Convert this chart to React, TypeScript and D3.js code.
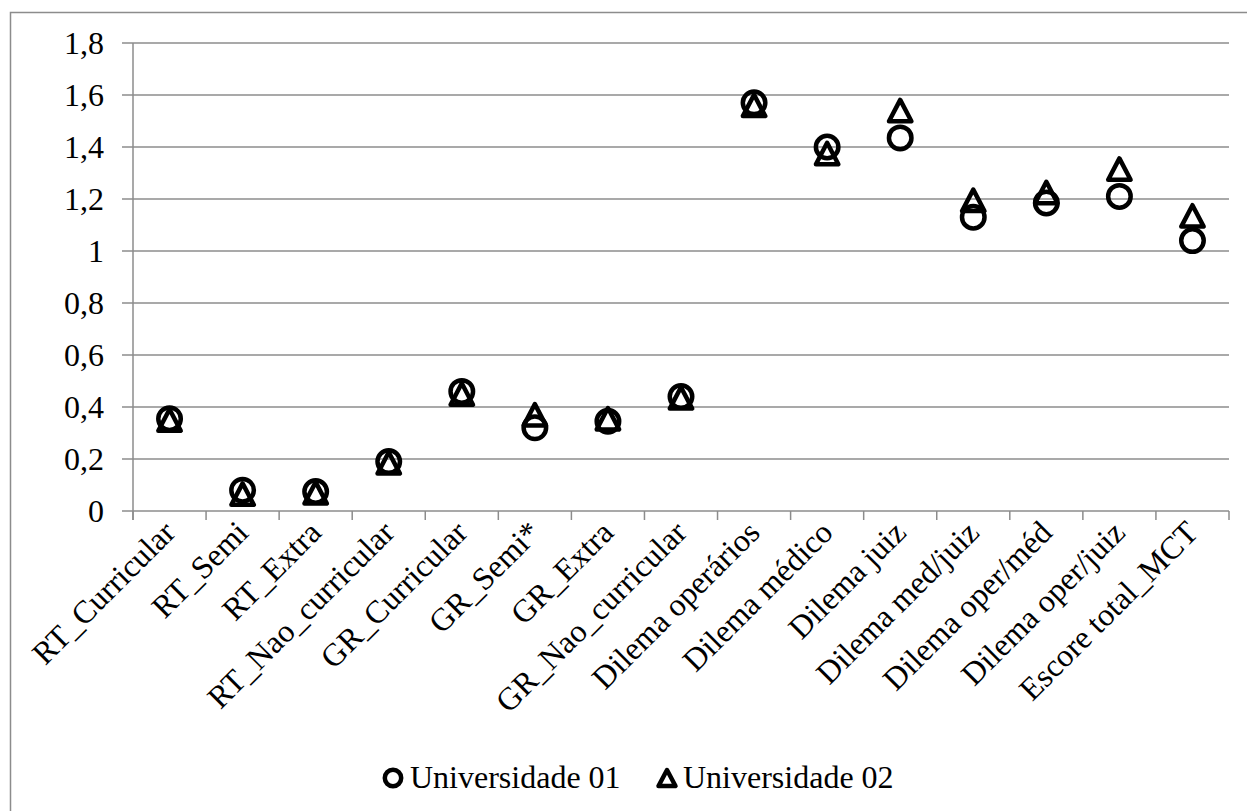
import React from "react";
import * as d3 from "d3";

const categories = [
  "RT_Curricular",
  "RT_Semi",
  "RT_Extra",
  "RT_Nao_curricular",
  "GR_Curricular",
  "GR_Semi*",
  "GR_Extra",
  "GR_Nao_curricular",
  "Dilema operários",
  "Dilema médico",
  "Dilema juiz",
  "Dilema med/juiz",
  "Dilema oper/méd",
  "Dilema oper/juiz",
  "Escore total_MCT",
];

const universidade01 = [0.355, 0.08, 0.075, 0.19, 0.46, 0.32, 0.345, 0.44, 1.57, 1.4, 1.435, 1.13, 1.185, 1.21, 1.04];
const universidade02 = [0.35, 0.065, 0.07, 0.185, 0.45, 0.37, 0.355, 0.435, 1.56, 1.375, 1.54, 1.195, 1.225, 1.315, 1.135];

const yTicks = [0, 0.2, 0.4, 0.6, 0.8, 1, 1.2, 1.4, 1.6, 1.8];
const yTickLabels = ["0", "0,2", "0,4", "0,6", "0,8", "1", "1,2", "1,4", "1,6", "1,8"];

const seriesNames = ["Universidade 01", "Universidade 02"];

const W = 1247;
const H = 811;
const left = 133;
const right = 1229;
const top = 43;
const bottom = 511;
const FONT = "'Liberation Serif', 'Times New Roman', Times, serif";
const GRID = "#8c8c8c";

function trianglePath(half: number, h: number) {
  return `M0,${-h}L${half},${h}L${-half},${h}Z`;
}

export default function App() {
  const x = d3.scaleBand<string>().domain(categories).range([left, right]).paddingInner(0).paddingOuter(0);
  const y = d3.scaleLinear().domain([0, 1.8]).range([bottom, top]);
  const bw = x.bandwidth();
  const boundaries = d3.range(categories.length + 1).map((i) => left + i * bw);

  return (
    <svg
      width={W}
      height={H}
      style={{ position: "absolute", left: 0, top: 0, background: "#fff" }}
      fontFamily={FONT}
    >
      <rect x={0} y={0} width={W} height={H} fill="#fff" />
      {/* chart frame */}
      <rect x={10.5} y={12.5} width={W + 20} height={H + 20} fill="none" stroke={GRID} strokeWidth={1.5} />

      {/* gridlines and y ticks */}
      {yTicks.map((t, i) => (
        <g key={i}>
          <line x1={left - 11} x2={right} y1={y(t)} y2={y(t)} stroke={GRID} strokeWidth={1.5} />
          <text x={104} y={y(t) + 11} textAnchor="end" fontSize={32} fill="#000">
            {yTickLabels[i]}
          </text>
        </g>
      ))}

      {/* y axis */}
      <line x1={left} x2={left} y1={top} y2={bottom + 9} stroke={GRID} strokeWidth={1.5} />
      {/* x tick marks */}
      {boundaries.map((bx, i) => (
        <line key={i} x1={bx} x2={bx} y1={bottom} y2={bottom + 9} stroke={GRID} strokeWidth={1.5} />
      ))}

      {/* category labels */}
      {categories.map((c) => {
        const cx = (x(c) as number) + bw / 2;
        return (
          <text
            key={c}
            transform={`translate(${cx},${527}) rotate(-45)`}
            textAnchor="end"
            dy="0.33em"
            fontSize={32}
            fill="#000"
          >
            {c}
          </text>
        );
      })}

      {/* Universidade 01: open circles */}
      {universidade01.map((v, i) => (
        <circle
          key={"a" + i}
          cx={(x(categories[i]) as number) + bw / 2}
          cy={y(v)}
          r={11.25}
          fill="none"
          stroke="#000"
          strokeWidth={4.5}
        />
      ))}

      {/* Universidade 02: open triangles */}
      {universidade02.map((v, i) => (
        <path
          key={"b" + i}
          transform={`translate(${(x(categories[i]) as number) + bw / 2},${y(v)})`}
          d={trianglePath(11.2, 10.7)}
          fill="none"
          stroke="#000"
          strokeWidth={4.5}
          strokeLinejoin="round"
        />
      ))}

      {/* legend */}
      <g>
        <circle cx={393} cy={778} r={8.2} fill="none" stroke="#000" strokeWidth={4.5} />
        <text x={410} y={788} fontSize={32} fill="#000">
          {seriesNames[0]}
        </text>
        <path
          transform="translate(667,778)"
          d={trianglePath(8.5, 8)}
          fill="none"
          stroke="#000"
          strokeWidth={4.5}
          strokeLinejoin="round"
        />
        <text x={683} y={788} fontSize={32} fill="#000">
          {seriesNames[1]}
        </text>
      </g>
    </svg>
  );
}
